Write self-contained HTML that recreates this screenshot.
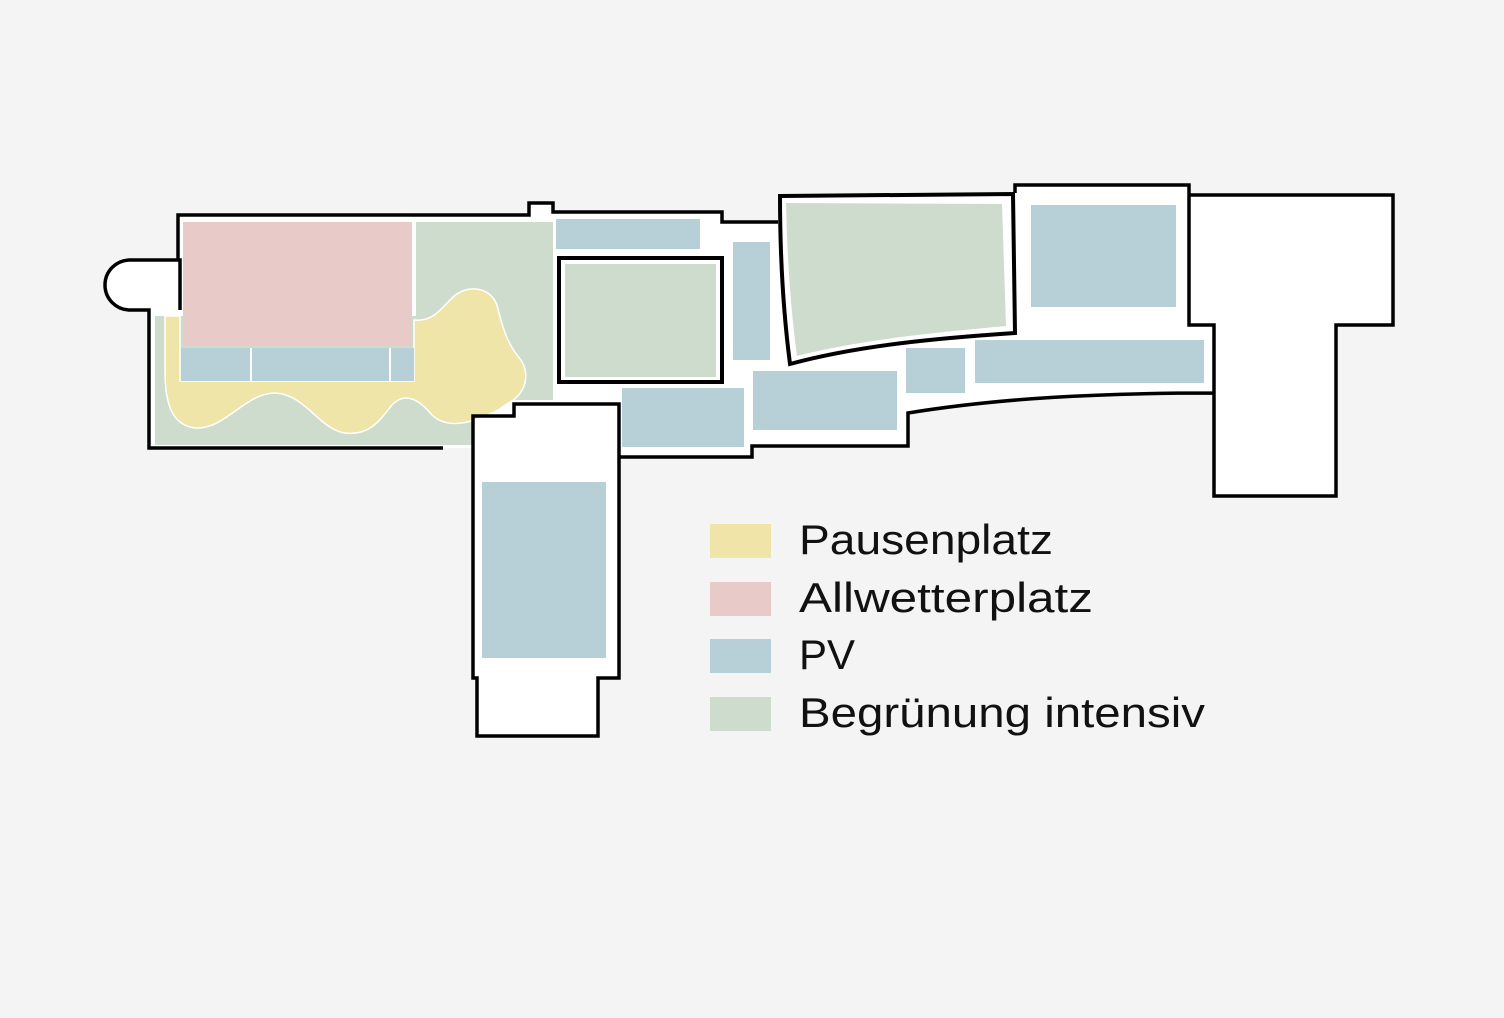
<!DOCTYPE html>
<html><head><meta charset="utf-8"><style>
html,body{margin:0;padding:0;background:#f4f4f4;}
svg{display:block}
text{font-family:"Liberation Sans",sans-serif;font-size:42px;fill:#111}
</style></head><body>
<svg width="1504" height="1018" viewBox="0 0 1504 1018" xmlns="http://www.w3.org/2000/svg">
<rect width="1504" height="1018" fill="#f4f4f4"/>
<!-- outline fill -->
<path d="M178,215 L529,215 L529,203 L553,203 L553,212 L722,212 L722,222 L778,222 L778,195 L1015,193 L1015,185 L1189,185 L1189,195 L1393,195 L1393,325 L1336,325 L1336,496 L1214,496 L1214,393 C1100,393 1000,398 908,413 L908,446 L752,446 L752,457 L619,457 L619,678 L598,678 L598,736 L477,736 L477,678 L473,678 L473,448 L149,448 L149,310 L130,310 A25,25 0 0 1 130,260 L178,260 Z" fill="#fff"/>
<!-- green left -->
<rect x="155" y="316" width="318" height="129" fill="#cedcce"/>
<rect x="416" y="222" width="137" height="178" fill="#cedcce"/>
<!-- yellow blob -->
<path d="M165,316 L180,316 L180,381 L414,381 L414,320 C432,322 440,310 452,298 C466,284 490,286 497,305 C503,330 508,345 521,360 C532,378 522,396 510,402 L498,410 C478,420 450,432 432,415 C418,398 404,392 392,405 C380,420 370,436 345,433 C320,430 305,394 275,393 C245,393 225,430 195,428 C170,425 165,400 165,370 Z" fill="#efe5a8" stroke="#fff" stroke-width="1.5"/>
<!-- pink -->
<rect x="183" y="222" width="229" height="124" fill="#e8cbc8"/>
<!-- PV strip -->
<rect x="181" y="348" width="233" height="33" fill="#b7cfd6"/>
<line x1="251" y1="348" x2="251" y2="381" stroke="#fff" stroke-width="2"/>
<line x1="390" y1="348" x2="390" y2="381" stroke="#fff" stroke-width="2"/>
<!-- PV panels -->
<g fill="#b7cfd6">
<rect x="556" y="219" width="144" height="30"/>
<rect x="733" y="242" width="37" height="118"/>
<rect x="622" y="388" width="122" height="59"/>
<rect x="753" y="371" width="144" height="59"/>
<rect x="906" y="348" width="59" height="45"/>
<rect x="975" y="340" width="229" height="43"/>
<rect x="1031" y="205" width="145" height="102"/>
<rect x="482" y="482" width="124" height="176"/>
</g>
<!-- inner boxes -->
<rect x="559" y="258" width="163" height="124" fill="#fff" stroke="#000" stroke-width="4"/>
<rect x="565" y="264" width="151" height="113" fill="#cedcce"/>
<path d="M780,196 L1013,194 L1015,333 C940,338 860,345 790,364 C783,310 780,250 780,196 Z" fill="#fff" stroke="#000" stroke-width="4"/>
<path d="M786,203 L1002,204 L1006,326 C930,333 860,340 797,356 C790,305 787,250 786,203 Z" fill="#cedcce"/>
<!-- main outline stroke -->
<path d="M443,448 L149,448 L149,310 L130,310 A25,25 0 0 1 130,260 L180,260 L180,310 M178,260 L178,215 L529,215 L529,203 L553,203 L553,212 L722,212 L722,222 L778,222 M1015,193 L1015,185 L1189,185 L1189,195 L1393,195 L1393,325 L1336,325 L1336,496 L1214,496 L1214,393 C1100,393 1000,398 908,413 L908,446 L752,446 L752,457 L619,457 L619,678 L598,678 L598,736 L477,736 L477,678 L473,678 L473,416 L514,416 L514,404 L619,404 L619,457 M1189,195 L1189,325 L1214,325 L1214,393" fill="none" stroke="#000" stroke-width="3.5" stroke-linejoin="miter"/>
<!-- legend -->
<rect x="710" y="524" width="61" height="34" fill="#efe5a8"/>
<rect x="710" y="582" width="61" height="34" fill="#e8cbc8"/>
<rect x="710" y="639" width="61" height="34" fill="#b7cfd6"/>
<rect x="710" y="697" width="61" height="34" fill="#cedcce"/>
<text x="799" y="554" textLength="254" lengthAdjust="spacingAndGlyphs">Pausenplatz</text>
<text x="799" y="612" textLength="294" lengthAdjust="spacingAndGlyphs">Allwetterplatz</text>
<text x="799" y="669">PV</text>
<text x="799" y="727" textLength="406" lengthAdjust="spacingAndGlyphs">Begrünung intensiv</text>
</svg>
</body></html>
